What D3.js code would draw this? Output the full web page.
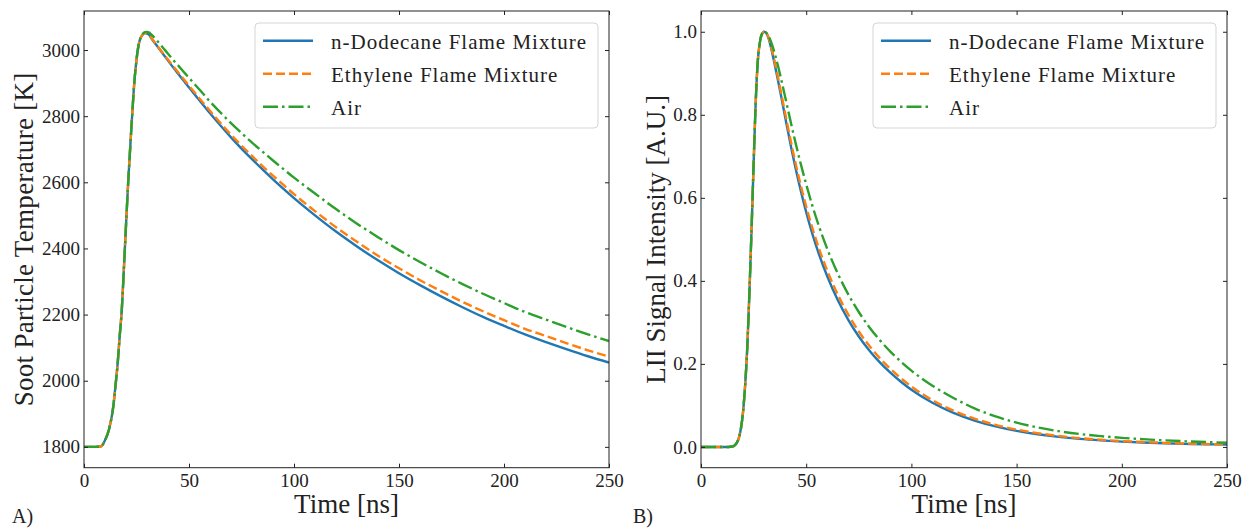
<!DOCTYPE html>
<html>
<head>
<meta charset="utf-8">
<script src="https://cdn.jsdelivr.net/npm/d3@7"></script>
<style>
    body { margin: 0; background: #fff; }
    svg { font-family: 'Liberation Serif', 'Times New Roman', serif; }
</style>
</head>
<body>
<svg id="chart" width="1247" height="529"></svg>
<script>
// time axis shared by all curves (ns)
const timeNs = [0, 5, 8, 10, 12, 14, 15, 16, 17, 18, 19, 20, 21, 22, 23, 24, 25, 26, 27, 28, 29, 30, 31, 32, 34, 36, 38, 40, 43, 45, 48, 50, 53, 56, 60, 65, 70, 75, 80, 85, 90, 95, 100, 110, 120, 130, 140, 150, 160, 170, 180, 190, 200, 210, 220, 230, 240, 250];

// soot particle temperature [K]
const tempDodecane = [1800, 1800, 1801, 1820, 1855, 1925, 1985, 2050, 2135, 2215, 2340, 2470, 2595, 2705, 2810, 2905, 2970, 3015, 3037, 3047, 3051, 3050, 3046, 3036, 3019, 3002, 2985, 2968, 2943, 2927, 2903, 2887, 2863, 2840, 2809, 2772, 2736, 2702, 2670, 2639, 2609, 2580, 2552, 2500, 2451, 2406, 2364, 2325, 2289, 2255, 2223, 2193, 2166, 2140, 2117, 2095, 2074, 2055];
const tempEthylene = [1800, 1800, 1801, 1820, 1855, 1925, 1985, 2050, 2135, 2215, 2340, 2470, 2595, 2705, 2810, 2905, 2970, 3015, 3037, 3047, 3051, 3050, 3046, 3037, 3020, 3004, 2987, 2971, 2947, 2931, 2908, 2892, 2869, 2846, 2816, 2779, 2744, 2711, 2680, 2649, 2620, 2592, 2564, 2513, 2464, 2420, 2378, 2340, 2304, 2271, 2239, 2210, 2183, 2157, 2135, 2113, 2092, 2073];
const tempAir = [1800, 1800, 1801, 1820, 1855, 1925, 1985, 2050, 2135, 2215, 2340, 2470, 2595, 2705, 2810, 2905, 2970, 3015, 3038, 3049, 3054, 3055, 3053, 3047, 3034, 3019, 3004, 2989, 2966, 2952, 2930, 2916, 2894, 2873, 2844, 2811, 2779, 2749, 2720, 2693, 2666, 2640, 2614, 2566, 2519, 2475, 2434, 2395, 2359, 2325, 2293, 2263, 2235, 2208, 2185, 2162, 2140, 2120];

// normalised LII signal [A.U.]
const liiDodecane = [0, 0, 0, 0, 0, 0.0005, 0.001, 0.004, 0.01, 0.022, 0.045, 0.085, 0.15, 0.24, 0.37, 0.52, 0.68, 0.83, 0.93, 0.975, 0.995, 1.0, 0.997, 0.986, 0.9455, 0.8976, 0.847, 0.7945, 0.7175, 0.670, 0.6053, 0.5655, 0.5122, 0.4653, 0.4111, 0.3538, 0.3061, 0.2661, 0.2325, 0.2037, 0.1789, 0.1571, 0.1379, 0.1064, 0.0820, 0.0636, 0.0495, 0.0387, 0.0305, 0.0242, 0.0194, 0.0158, 0.0129, 0.0107, 0.0089, 0.0075, 0.0064, 0.0055];
const liiEthylene = [0, 0, 0, 0, 0, 0.0005, 0.001, 0.004, 0.01, 0.022, 0.045, 0.085, 0.15, 0.24, 0.37, 0.52, 0.68, 0.83, 0.93, 0.975, 0.995, 1.0, 0.997, 0.988, 0.950, 0.905, 0.855, 0.804, 0.729, 0.682, 0.618, 0.579, 0.526, 0.479, 0.425, 0.367, 0.319, 0.278, 0.2437, 0.2139, 0.1882, 0.1656, 0.1456, 0.1128, 0.0873, 0.0681, 0.0532, 0.0418, 0.0331, 0.0264, 0.0212, 0.0174, 0.0142, 0.0118, 0.0098, 0.0083, 0.0070, 0.0061];
const liiAir = [0, 0, 0, 0, 0, 0.0005, 0.001, 0.004, 0.01, 0.022, 0.045, 0.085, 0.15, 0.24, 0.37, 0.52, 0.68, 0.83, 0.93, 0.975, 0.995, 1.0, 0.998, 0.991, 0.9656, 0.9296, 0.8878, 0.8428, 0.7749, 0.7312, 0.6703, 0.6325, 0.5799, 0.5326, 0.4771, 0.4177, 0.3675, 0.325, 0.2885, 0.2572, 0.2297, 0.2054, 0.1838, 0.1475, 0.1178, 0.0931, 0.0736, 0.0585, 0.0469, 0.0380, 0.0311, 0.0260, 0.0219, 0.0187, 0.0159, 0.0137, 0.0118, 0.0102];

const seriesNames = ['n-Dodecane Flame Mixture', 'Ethylene Flame Mixture', 'Air'];
const timeTicks = [0, 50, 100, 150, 200, 250];
const tempTicks = [1800, 2000, 2200, 2400, 2600, 2800, 3000];
const liiTicks = [0.0, 0.2, 0.4, 0.6, 0.8, 1.0];

const colors = ['#1f77b4', '#ff7f0e', '#2ca02c'];
const dashes = [null, '9,4', '15,4,2.5,4'];
const textColor = '#222';

const svg = d3.select('#chart');

function drawPanel(cfg) {
    const g = svg.append('g');

    const scaleX = d3.scaleLinear()
        .domain([0, 250])
        .range([cfg.left, cfg.right]);

    const scaleY = d3.scaleLinear()
        .domain(cfg.yDomain)
        .range([cfg.bottom, cfg.top]);

    // clip the curves to the axes box
    g.append('clipPath')
        .attr('id', cfg.id + '-clip')
        .append('rect')
        .attr('x', cfg.left)
        .attr('y', cfg.top)
        .attr('width', cfg.right - cfg.left)
        .attr('height', cfg.bottom - cfg.top);

    const line = d3.line()
        .x(d => scaleX(d[0]))
        .y(d => scaleY(d[1]))
        .curve(d3.curveMonotoneX);

    const curves = g.append('g').attr('clip-path', `url(#${cfg.id}-clip)`);
    cfg.series.forEach((values, i) => {
        curves.append('path')
            .datum(timeNs.map((t, k) => [t, values[k]]))
            .attr('d', line)
            .attr('fill', 'none')
            .attr('stroke', colors[i])
            .attr('stroke-width', 2.4)
            .attr('stroke-dasharray', dashes[i]);
    });

    // ticks pointing inward on all four sides
    const styleAxis = sel => {
        sel.attr('font-family', "'Liberation Serif', serif").attr('font-size', 19);
        sel.select('.domain').remove();
        sel.selectAll('line').attr('stroke', textColor).attr('stroke-width', 1);
        sel.selectAll('text').attr('fill', textColor);
    };

    g.append('g')
        .attr('transform', `translate(0, ${cfg.bottom})`)
        .call(d3.axisBottom(scaleX).tickValues(timeTicks).tickSize(-4).tickPadding(6).tickFormat(d3.format('d')))
        .call(styleAxis);
    g.append('g')
        .attr('transform', `translate(0, ${cfg.top})`)
        .call(d3.axisTop(scaleX).tickValues(timeTicks).tickSize(-4).tickFormat(''))
        .call(styleAxis);
    g.append('g')
        .attr('transform', `translate(${cfg.left}, 0)`)
        .call(d3.axisLeft(scaleY).tickValues(cfg.yTicks).tickSize(-4).tickPadding(4).tickFormat(cfg.yFormat))
        .call(styleAxis);
    g.append('g')
        .attr('transform', `translate(${cfg.right}, 0)`)
        .call(d3.axisRight(scaleY).tickValues(cfg.yTicks).tickSize(-4).tickFormat(''))
        .call(styleAxis);

    // frame
    g.append('rect')
        .attr('x', cfg.left)
        .attr('y', cfg.top)
        .attr('width', cfg.right - cfg.left)
        .attr('height', cfg.bottom - cfg.top)
        .attr('fill', 'none')
        .attr('stroke', textColor)
        .attr('stroke-width', 1);

    // axis titles
    g.append('text')
        .attr('x', (cfg.left + cfg.right) / 2)
        .attr('y', 513)
        .attr('text-anchor', 'middle')
        .attr('fill', textColor)
        .style('font-size', '27px')
        .text('Time [ns]');

    g.append('text')
        .attr('transform', `translate(${cfg.yLabelX}, ${(cfg.top + cfg.bottom) / 2}) rotate(-90)`)
        .attr('text-anchor', 'middle')
        .attr('fill', textColor)
        .style('font-size', '27px')
        .style('letter-spacing', cfg.yLabelSpacing)
        .text(cfg.yLabel);

    g.append('text')
        .attr('x', cfg.letterX)
        .attr('y', 523)
        .attr('fill', textColor)
        .style('font-size', '20px')
        .text(cfg.letter);

    // legend
    const lg = g.append('g').attr('transform', `translate(${cfg.legendX}, 23)`);
    lg.append('rect')
        .attr('width', 343)
        .attr('height', 105)
        .attr('rx', 4)
        .attr('fill', 'rgba(255,255,255,0.8)')
        .attr('stroke', '#d5d5d5')
        .attr('stroke-width', 1);

    seriesNames.forEach((name, i) => {
        const y = 17.7 + i * 33;
        lg.append('line')
            .attr('x1', 8)
            .attr('x2', 58)
            .attr('y1', y)
            .attr('y2', y)
            .attr('stroke', colors[i])
            .attr('stroke-width', 2.4)
            .attr('stroke-dasharray', dashes[i]);
        lg.append('text')
            .attr('x', 76)
            .attr('y', y + 8.3)
            .attr('fill', textColor)
            .style('font-size', '21px')
            .style('letter-spacing', '1px')
            .text(name);
    });
}

drawPanel({
    id: 'temp',
    left: 84, right: 609, top: 11, bottom: 467.7,
    yDomain: [1737, 3118],
    yTicks: tempTicks,
    yFormat: d3.format('d'),
    series: [tempDodecane, tempEthylene, tempAir],
    yLabel: 'Soot Particle Temperature [K]',
    yLabelX: 33,
    yLabelSpacing: '0.3px',
    letter: 'A)',
    letterX: 12,
    legendX: 255
});

drawPanel({
    id: 'lii',
    left: 701, right: 1227, top: 11, bottom: 467.7,
    yDomain: [-0.05, 1.05],
    yTicks: liiTicks,
    yFormat: d3.format('.1f'),
    series: [liiDodecane, liiEthylene, liiAir],
    yLabel: 'LII Signal Intensity [A.U.]',
    yLabelX: 665,
    yLabelSpacing: '0px',
    letter: 'B)',
    letterX: 633,
    legendX: 873
});
</script>
</body>
</html>
